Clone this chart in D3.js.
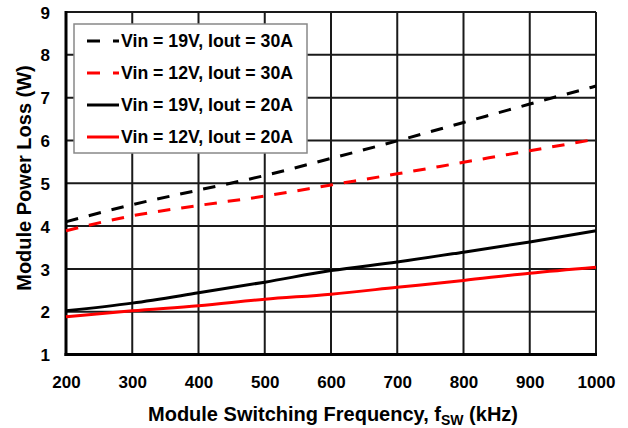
<!DOCTYPE html>
<html>
<head>
<meta charset="utf-8">
<script src="https://cdn.jsdelivr.net/npm/d3@7"></script>
<style>
  body { margin: 0; background: #fff; }
  text { font-family: "Liberation Sans", Arial, sans-serif; font-weight: bold; fill: #000; }
</style>
</head>
<body>
<svg id="chart" width="628" height="428"></svg>
<script>
const freqs = [200, 300, 400, 500, 600, 700, 800, 900, 1000];
const v19i30 = [4.10, 4.50, 4.84, 5.18, 5.58, 5.99, 6.42, 6.85, 7.27];
const v12i30 = [3.89, 4.24, 4.48, 4.70, 4.96, 5.22, 5.49, 5.76, 6.03];
const v19i20 = [2.02, 2.20, 2.44, 2.69, 2.96, 3.16, 3.39, 3.63, 3.89];
const v12i20 = [1.88, 2.02, 2.14, 2.29, 2.41, 2.57, 2.73, 2.90, 3.04];
const xTicks = [200, 300, 400, 500, 600, 700, 800, 900, 1000];
const yTicks = [1, 2, 3, 4, 5, 6, 7, 8, 9];

const series = [
    { name: "Vin = 19V, Iout = 30A", values: v19i30, color: "#000000", dash: "12.5,11" },
    { name: "Vin = 12V, Iout = 30A", values: v12i30, color: "#FF0000", dash: "12.5,11" },
    { name: "Vin = 19V, Iout = 20A", values: v19i20, color: "#000000", dash: null },
    { name: "Vin = 12V, Iout = 20A", values: v12i20, color: "#FF0000", dash: null }
];

const svg = d3.select("#chart");
const plotL = 66, plotR = 596, plotT = 12, plotB = 354.5;

const x = d3.scaleLinear().domain([200, 1000]).range([plotL, plotR]);
const y = d3.scaleLinear().domain([1, 9]).range([plotB, plotT]);

// grid
svg.append("g")
    .selectAll("line")
    .data(xTicks)
    .join("line")
    .attr("x1", d => x(d)).attr("x2", d => x(d))
    .attr("y1", plotT).attr("y2", plotB)
    .attr("stroke", "#1a1a1a").attr("stroke-width", 2);

svg.append("g")
    .selectAll("line")
    .data(yTicks)
    .join("line")
    .attr("x1", plotL).attr("x2", plotR)
    .attr("y1", d => y(d)).attr("y2", d => y(d))
    .attr("stroke", "#1a1a1a").attr("stroke-width", 2);

// heavier left / bottom frame
svg.append("line").attr("x1", plotL).attr("x2", plotL).attr("y1", plotT - 1).attr("y2", plotB + 1.5)
    .attr("stroke", "#000").attr("stroke-width", 3);
svg.append("line").attr("x1", plotL - 1.5).attr("x2", plotR + 1).attr("y1", plotB).attr("y2", plotB)
    .attr("stroke", "#000").attr("stroke-width", 3);

// axes labels
const xAxis = d3.axisBottom(x).tickValues(xTicks).tickFormat(d3.format("d")).tickSize(0).tickPadding(0);
const gx = svg.append("g").attr("transform", `translate(0,${plotB})`).call(xAxis);
gx.select(".domain").remove();
gx.selectAll("text")
    .attr("y", 28).attr("dy", "0.35em")
    .style("font-size", "17px").style("font-family", "Liberation Sans, Arial, sans-serif")
    .style("font-weight", "bold").attr("fill", "#000");

const yAxis = d3.axisLeft(y).tickValues(yTicks).tickSize(0).tickPadding(0);
const gy = svg.append("g").attr("transform", `translate(${plotL},0)`).call(yAxis);
gy.select(".domain").remove();
gy.selectAll("text")
    .attr("x", -16).attr("dy", "0.36em")
    .style("font-size", "17px").style("font-family", "Liberation Sans, Arial, sans-serif")
    .style("font-weight", "bold").attr("fill", "#000");

// lines
const line = d3.line()
    .x((d, i) => x(freqs[i]))
    .y(d => y(d))
    .curve(d3.curveMonotoneX);

svg.append("g")
    .selectAll("path")
    .data(series)
    .join("path")
    .attr("d", d => line(d.values))
    .attr("fill", "none")
    .attr("stroke", d => d.color)
    .attr("stroke-width", 3)
    .attr("stroke-dasharray", d => d.dash);

// legend
const lg = svg.append("g");
lg.append("rect")
    .attr("x", 74).attr("y", 24).attr("width", 233).attr("height", 129)
    .attr("fill", "#fff").attr("stroke", "#888").attr("stroke-width", 1.5);

const rows = lg.selectAll("g.row")
    .data(series)
    .join("g")
    .attr("transform", (d, i) => `translate(0,${41 + i * 32})`);

rows.append("line")
    .attr("x1", 87).attr("x2", 119).attr("y1", 0).attr("y2", 0)
    .attr("stroke", d => d.color).attr("stroke-width", 3)
    .attr("stroke-dasharray", d => d.dash ? "13,13" : null);

rows.append("text")
    .attr("x", 121).attr("y", 0).attr("dy", "0.36em")
    .style("font-size", "17.7px")
    .text(d => d.name);

// titles
const xt = svg.append("text")
    .attr("x", 333).attr("y", 421)
    .attr("text-anchor", "middle")
    .style("font-size", "20px");
xt.append("tspan").text("Module Switching Frequency, f");
xt.append("tspan").attr("dy", 4).style("font-size", "14px").text("SW");
xt.append("tspan").attr("dy", -4).text(" (kHz)");

svg.append("text")
    .attr("transform", `translate(31,178) rotate(-90)`)
    .attr("text-anchor", "middle")
    .style("font-size", "20px")
    .text("Module Power Loss (W)");
</script>
</body>
</html>
